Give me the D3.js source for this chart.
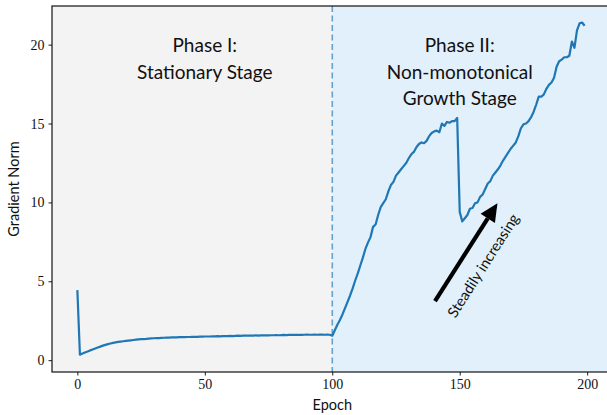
<!DOCTYPE html>
<html><head><meta charset="utf-8">
<script src="https://cdn.jsdelivr.net/npm/d3@7"></script>
<style>html,body{margin:0;padding:0;background:#fff;overflow:hidden}</style>
</head><body><svg id="c" width="607" height="415"></svg>
<script>
const epochs = d3.range(0, 200);
const gradNorm = [
4.44,0.35,0.42,0.49,0.55,0.62,0.68,0.74,0.80,0.86,
0.92,0.97,1.02,1.06,1.10,1.13,1.16,1.18,1.20,1.22,
1.24,1.26,1.28,1.30,1.32,1.33,1.34,1.35,1.37,1.38,
1.39,1.40,1.40,1.41,1.42,1.43,1.43,1.44,1.44,1.45,
1.46,1.46,1.46,1.47,1.47,1.48,1.48,1.48,1.49,1.49,
1.50,1.50,1.50,1.51,1.51,1.52,1.51,1.52,1.53,1.53,
1.54,1.53,1.54,1.55,1.54,1.55,1.56,1.55,1.56,1.56,
1.57,1.56,1.57,1.57,1.58,1.57,1.58,1.58,1.59,1.58,
1.59,1.60,1.59,1.60,1.61,1.60,1.60,1.61,1.60,1.61,
1.62,1.61,1.61,1.62,1.61,1.62,1.62,1.61,1.62,1.61,
1.55,1.90,2.25,2.55,2.90,3.30,3.70,4.10,4.55,5.05,
5.50,6.00,6.50,7.05,7.45,7.80,8.45,8.60,9.20,9.70,
9.95,10.20,10.70,11.10,11.30,11.70,11.90,12.10,12.30,12.50,
12.80,13.05,13.20,13.50,13.70,13.80,13.75,13.90,14.20,14.40,
14.50,14.55,14.45,15.00,14.85,15.10,15.05,15.15,15.15,15.35,
9.40,8.80,9.00,9.20,9.60,9.65,9.95,10.00,10.35,10.50,
10.85,11.20,11.35,11.70,11.90,12.10,12.35,12.65,12.90,13.15,
13.40,13.60,13.80,14.20,14.70,14.95,15.00,15.15,15.40,15.75,
16.20,16.70,16.70,16.85,17.20,17.45,17.60,17.90,18.60,18.95,
19.05,19.20,19.20,19.30,20.20,19.80,20.90,21.35,21.40,21.20
];
const xTicks = [0, 50, 100, 150, 200];
const yTicks = [0, 5, 10, 15, 20];
const phases = [
  {from: -9.95, to: 100, lines: ["Phase I:", "Stationary Stage"], cx: 50, fill: "#f3f3f3"},
  {from: 100, to: 208.95, lines: ["Phase II:", "Non-monotonical", "Growth Stage"], cx: 150, fill: "#e1f0fb"}
];
const boundary = 100;
const arrow = {x0: 140.3, y0: 3.75, x1: 164.8, y1: 9.95, label: "Steadily increasing", lx: 159.2, ly: 6.0};

const svg = d3.select("#c");
const L = 52, R = 610, T = 6, B = 372;
const x = d3.scaleLinear().domain([-9.95, 208.95]).range([L, R]);
const y = d3.scaleLinear().domain([-0.75, 22.45]).range([B, T]);

svg.append("defs").append("clipPath").attr("id","pc")
  .append("rect").attr("x",L).attr("y",T).attr("width",R-L).attr("height",B-T);
const g = svg.append("g").attr("clip-path","url(#pc)");

g.selectAll("rect.ph").data(phases).join("rect")
  .attr("x", d => x(d.from)).attr("width", d => x(d.to) - x(d.from))
  .attr("y", T).attr("height", B - T).attr("fill", d => d.fill);

g.append("line").attr("x1", x(boundary)).attr("x2", x(boundary))
  .attr("y1", T).attr("y2", B).attr("stroke", "#1f77b4").attr("stroke-opacity", 0.65)
  .attr("stroke-width", 1.6).attr("stroke-dasharray", "6,3.5");

const line = d3.line().x((d,i) => x(epochs[i])).y(d => y(d));
g.append("path").datum(gradNorm).attr("d", line).attr("fill","none")
  .attr("stroke","#1f77b4").attr("stroke-width",2.2).attr("stroke-linejoin","round");

const sans = "Lato, 'Open Sans', sans-serif";
phases.forEach(p => {
  p.lines.forEach((t, i) => {
    svg.append("text").attr("x", x(p.cx)).attr("y", 52 + i*26.5)
      .attr("text-anchor","middle").attr("font-family", sans).attr("font-size", 19)
      .attr("fill","#111").text(t);
  });
});

// arrow
const ax0 = x(arrow.x0), ay0 = y(arrow.y0), ax1 = x(arrow.x1), ay1 = y(arrow.y1);
const ang = Math.atan2(ay1 - ay0, ax1 - ax0);
const hl = 18, hw = 8.5;
const bx = ax1 - hl*Math.cos(ang), by = ay1 - hl*Math.sin(ang);
svg.append("line").attr("x1",ax0).attr("y1",ay0).attr("x2",bx).attr("y2",by)
  .attr("stroke","#000").attr("stroke-width",4.2);
svg.append("path").attr("d", `M${ax1},${ay1} L${bx - hw*Math.sin(ang)},${by + hw*Math.cos(ang)} L${bx + hw*Math.sin(ang)},${by - hw*Math.cos(ang)} Z`)
  .attr("fill","#000");
svg.append("text").attr("transform", `translate(${x(arrow.lx)},${y(arrow.ly)}) rotate(${ang*180/Math.PI})`)
  .attr("text-anchor","middle").attr("dy","0.35em").attr("font-family", sans).attr("font-size", 14.8)
  .attr("fill","#111").text(arrow.label);

// axes
const serif = "'Liberation Serif', 'DejaVu Serif', serif";
const xa = svg.append("g").attr("transform",`translate(0,${B})`)
  .call(d3.axisBottom(x).tickValues(xTicks).tickSize(3.5).tickPadding(4).tickFormat(d3.format("d")));
const ya = svg.append("g").attr("transform",`translate(${L},0)`)
  .call(d3.axisLeft(y).tickValues(yTicks).tickSize(3.5).tickPadding(4).tickFormat(d3.format("d")));
[xa, ya].forEach(a => {
  a.select(".domain").remove();
  a.selectAll("line").attr("stroke","#000").attr("stroke-width",0.9);
  a.selectAll("text").attr("font-family", serif).attr("font-size", 14).attr("fill","#111");
});
svg.append("rect").attr("x",L).attr("y",T).attr("width",R-L).attr("height",B-T)
  .attr("fill","none").attr("stroke","#111").attr("stroke-width",1.2);

svg.append("text").attr("x", x(100)).attr("y", 410).attr("text-anchor","middle")
  .attr("font-family", sans).attr("font-size", 14.5).attr("fill","#111").text("Epoch");
svg.append("text").attr("transform", `translate(19,${(T+B)/2}) rotate(-90)`).attr("text-anchor","middle")
  .attr("font-family", sans).attr("font-size", 14.5).attr("fill","#111").text("Gradient Norm");
</script></body></html>
